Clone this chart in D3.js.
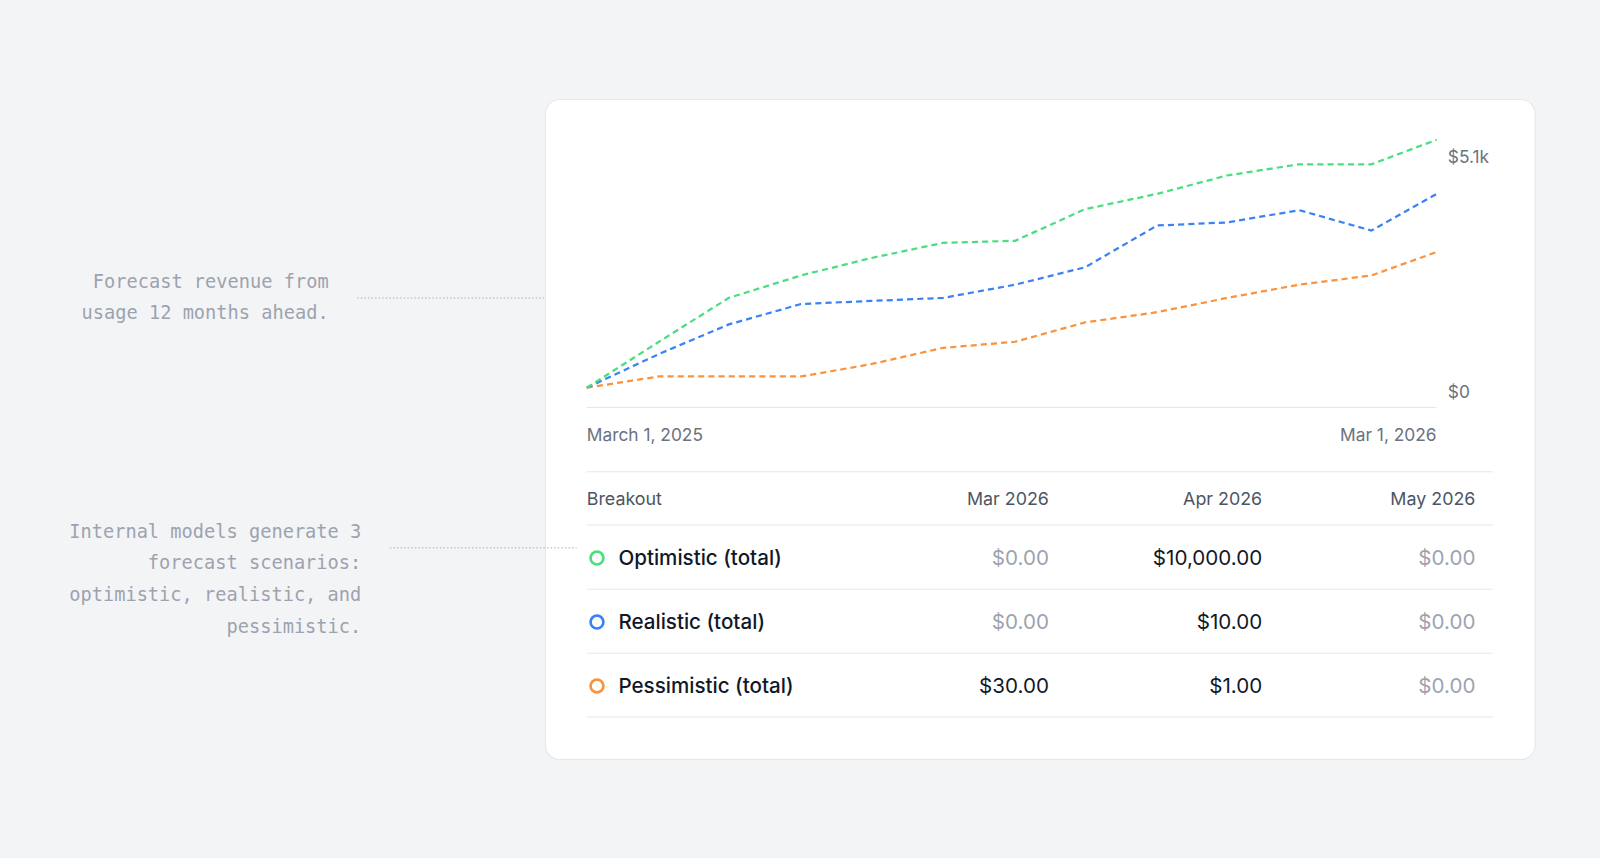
<!DOCTYPE html>
<html><head><meta charset="utf-8">
<script src="https://cdn.jsdelivr.net/npm/d3@7"></script>
<style>html,body{margin:0;padding:0;background:#f3f4f6;overflow:hidden}</style>
</head><body>
<script>
const months = d3.range(13).map(i => new Date(2025, 2 + i, 1));
const optimistic  = [0, 998, 1952, 2439, 2816, 3148, 3193, 3880, 4213, 4612, 4856, 4856, 5388];
const realistic   = [0, 732, 1375, 1818, 1885, 1951, 2239, 2616, 3525, 3592, 3858, 3415, 4213];
const pessimistic = [0, 244, 244, 244, 510, 865, 998, 1419, 1641, 1951, 2239, 2439, 2949];
const yTicks = [0, 5100];
const yTickLabels = ["$0", "$5.1k"];
const xTickLabels = ["March 1, 2025", "Mar 1, 2026"];
const tableCols = ["Mar 2026", "Apr 2026", "May 2026"];
const rowNames = ["Optimistic (total)", "Realistic (total)", "Pessimistic (total)"];
const rowValues = [[0, 10000, 0], [0, 10, 0], [30, 1, 0]];
const colors = ["#4ade80", "#3b82f6", "#fb923c"];
const notes = [["Forecast revenue from", "usage 12 months ahead."],
               ["Internal models generate 3", "forecast scenarios:", "optimistic, realistic, and", "pessimistic."]];

const svg = d3.select("body").append("svg")
  .attr("width", 1600).attr("height", 858).attr("viewBox", "0 0 1568 841");
svg.append("rect").attr("width", 1568).attr("height", 841).attr("fill", "#f3f4f6");

// card
svg.append("rect").attr("x", 534.5).attr("y", 97.5).attr("width", 970).attr("height", 647)
  .attr("rx", 14).attr("fill", "#fff").attr("stroke", "#e5e7eb");

// annotations
const mono = "'DejaVu Sans Mono', 'Liberation Mono', monospace";
const noteCfg = [{x: 322, y: 282, lineY: 292, x1: 350, x2: 533}, {x: 354, y: 527, lineY: 537, x1: 382, x2: 565}];
notes.forEach((lines, k) => {
  const c = noteCfg[k];
  lines.forEach((t, j) => svg.append("text").attr("x", c.x).attr("y", c.y + j * 31)
    .attr("text-anchor", "end").attr("font-family", mono).attr("font-size", 18.3)
    .attr("fill", "#9ca3af").text(t));
  svg.append("line").attr("x1", c.x1).attr("x2", c.x2).attr("y1", c.lineY).attr("y2", c.lineY)
    .attr("stroke", "#c4c8ce").attr("stroke-width", 1.5).attr("stroke-dasharray", "1.5 2");
});

const font = "Inter, 'Noto Sans', sans-serif";
const x = d3.scaleTime().domain([months[0], months[12]]).range([575, 1408]);
const y = d3.scaleLinear().domain([0, 5100]).range([380, 150]);

svg.append("line").attr("x1", 575).attr("x2", 1408).attr("y1", 399.5).attr("y2", 399.5).attr("stroke", "#e5e7eb");

yTicks.forEach((v, i) => svg.append("text").attr("x", 1419).attr("y", y(v) + 10)
  .attr("font-family", font).attr("font-size", 17).attr("fill", "#6b7280").text(yTickLabels[i]));
[months[0], months[12]].forEach((d, i) => svg.append("text").attr("x", x(d)).attr("y", 432)
  .attr("text-anchor", i ? "end" : "start").attr("font-family", font).attr("font-size", 17)
  .attr("fill", "#6b7280").text(xTickLabels[i]));

const line = d3.line().x((d, i) => x(months[i])).y(d => y(d));
[pessimistic, realistic, optimistic].forEach((s, k) => svg.append("path").datum(s)
  .attr("d", line).attr("fill", "none").attr("stroke", colors[2 - k]).attr("stroke-width", 2.2)
  .attr("stroke-dasharray", "6 4"));

// table
const colX = [1028, 1237, 1446];
const sep = (yy) => svg.append("line").attr("x1", 575).attr("x2", 1463).attr("y1", yy).attr("y2", yy).attr("stroke", "#e5e7eb");
sep(462.5); sep(514.5);
svg.append("text").attr("x", 575).attr("y", 495).attr("font-family", font).attr("font-size", 17.5)
  .attr("fill", "#4b5563").text("Breakout");
tableCols.forEach((c, i) => svg.append("text").attr("x", colX[i]).attr("y", 495).attr("text-anchor", "end")
  .attr("font-family", font).attr("font-size", 17.5).attr("fill", "#4b5563").text(c));
const fmt = d3.format("$,.2f");
rowNames.forEach((n, r) => {
  const cy = 547 + r * 62.7;
  svg.append("circle").attr("cx", 585).attr("cy", cy).attr("r", 6.3).attr("fill", "none")
    .attr("stroke", colors[r]).attr("stroke-width", 2.6);
  svg.append("text").attr("x", 606).attr("y", cy + 7).attr("font-family", font).attr("font-size", 20.2)
    .attr("font-weight", 500).attr("fill", "#111827").text(n);
  rowValues[r].forEach((v, i) => svg.append("text").attr("x", colX[i]).attr("y", cy + 7)
    .attr("text-anchor", "end").attr("font-family", font).attr("font-size", 20.2)
    .attr("fill", v === 0 ? "#9ca3af" : "#111827").text(fmt(v)));
  sep(cy + 30.5);
});
</script>
</body></html>
